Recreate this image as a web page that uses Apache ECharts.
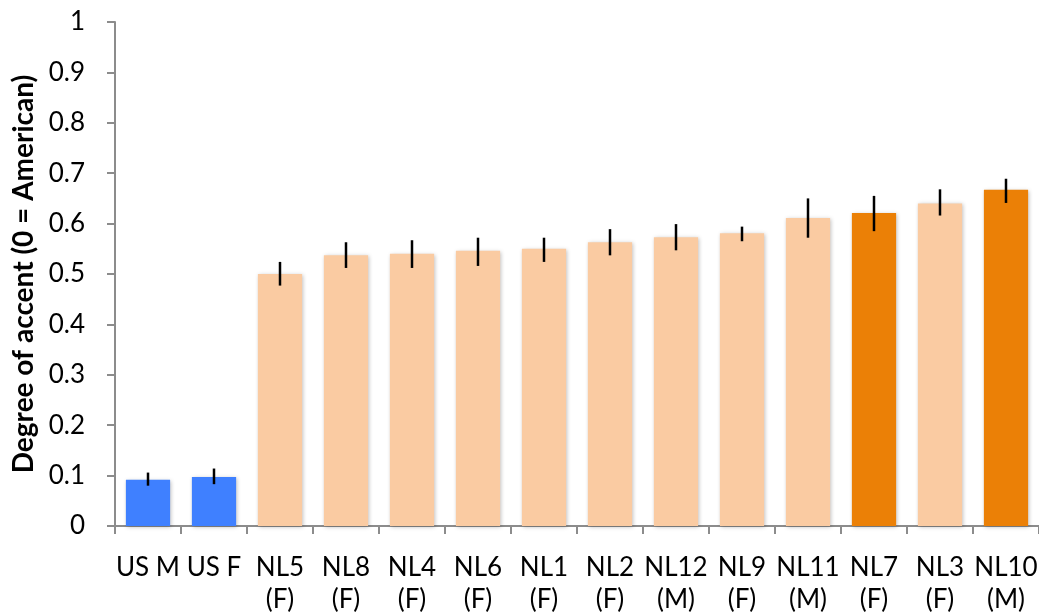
<!DOCTYPE html>
<html><head><meta charset="utf-8">
<script src="https://cdn.jsdelivr.net/npm/echarts@6/dist/echarts.min.js"></script>
<style>html,body{margin:0;padding:0;background:#fff}#c{width:1039px;height:613px}</style>
</head><body><div id="c"></div>
<script>
const categories = ['US M','US F','NL5\n(F)','NL8\n(F)','NL4\n(F)','NL6\n(F)','NL1\n(F)','NL2\n(F)','NL12\n(M)','NL9\n(F)','NL11\n(M)','NL7\n(F)','NL3\n(F)','NL10\n(M)'];
const values   = [0.092,0.097,0.500,0.537,0.540,0.546,0.550,0.563,0.573,0.581,0.611,0.621,0.640,0.667];
const errLow   = [0.080,0.083,0.477,0.512,0.512,0.516,0.524,0.537,0.547,0.565,0.572,0.585,0.616,0.641];
const errHigh  = [0.106,0.114,0.524,0.563,0.567,0.572,0.572,0.589,0.599,0.594,0.650,0.655,0.668,0.689];
const groups   = ['US','US','NL','NL','NL','NL','NL','NL','NL','NL','NL','NLhi','NL','NLhi'];
const yTicks   = [0,0.1,0.2,0.3,0.4,0.5,0.6,0.7,0.8,0.9,1];
const groupColors = {US:'#3F80FF', NL:'#FACBA2', NLhi:'#EB8006'};

const chart = echarts.init(document.getElementById('c'));
chart.setOption({
  animation:false,
  grid:{left:115,right:0,top:22,bottom:87,containLabel:false,outerBoundsMode:'none'},
  xAxis:{type:'category',data:categories,
    axisLine:{lineStyle:{color:'#8c8c8c',width:2}},
    axisTick:{show:true,length:8,lineStyle:{color:'#8c8c8c',width:2}},
    axisLabel:{color:'#000',fontFamily:'Lato, "Open Sans", sans-serif',fontSize:26,lineHeight:32,margin:26,interval:0,hideOverlap:false}},
  yAxis:{type:'value',min:0,max:1,interval:0.1,
    name:'Degree of accent (0 = American)',nameLocation:'middle',nameGap:76,
    nameTextStyle:{color:'#000',fontFamily:'Lato, "Open Sans", sans-serif',fontWeight:'bold',fontSize:28},
    axisLine:{show:true,lineStyle:{color:'#8c8c8c',width:2}},
    axisTick:{show:true,length:8,lineStyle:{color:'#8c8c8c',width:2}},
    splitLine:{show:false},
    axisLabel:{color:'#000',fontFamily:'Lato, "Open Sans", sans-serif',fontSize:26,margin:30,
      formatter:v=>{const t=yTicks.find(x=>Math.abs(x-v)<1e-9);return t===undefined?'':String(t);}}},
  series:[
    {type:'bar',barCategoryGap:'33%',
     data:values.map((v,i)=>({value:v,itemStyle:{color:groupColors[groups[i]],shadowColor:'rgba(0,0,0,0.25)',shadowBlur:4,shadowOffsetX:1,shadowOffsetY:1}}))},
    {type:'custom',
     data:categories.map((c,i)=>[i,errLow[i],errHigh[i]]),
     renderItem:(params,api)=>{
       const lo=api.coord([api.value(0),api.value(1)]);
       const hi=api.coord([api.value(0),api.value(2)]);
       return {type:'line',shape:{x1:lo[0],y1:lo[1],x2:hi[0],y2:hi[1]},style:{stroke:'#000',lineWidth:2.5}};
     },z:5}
  ]
});
</script></body></html>
